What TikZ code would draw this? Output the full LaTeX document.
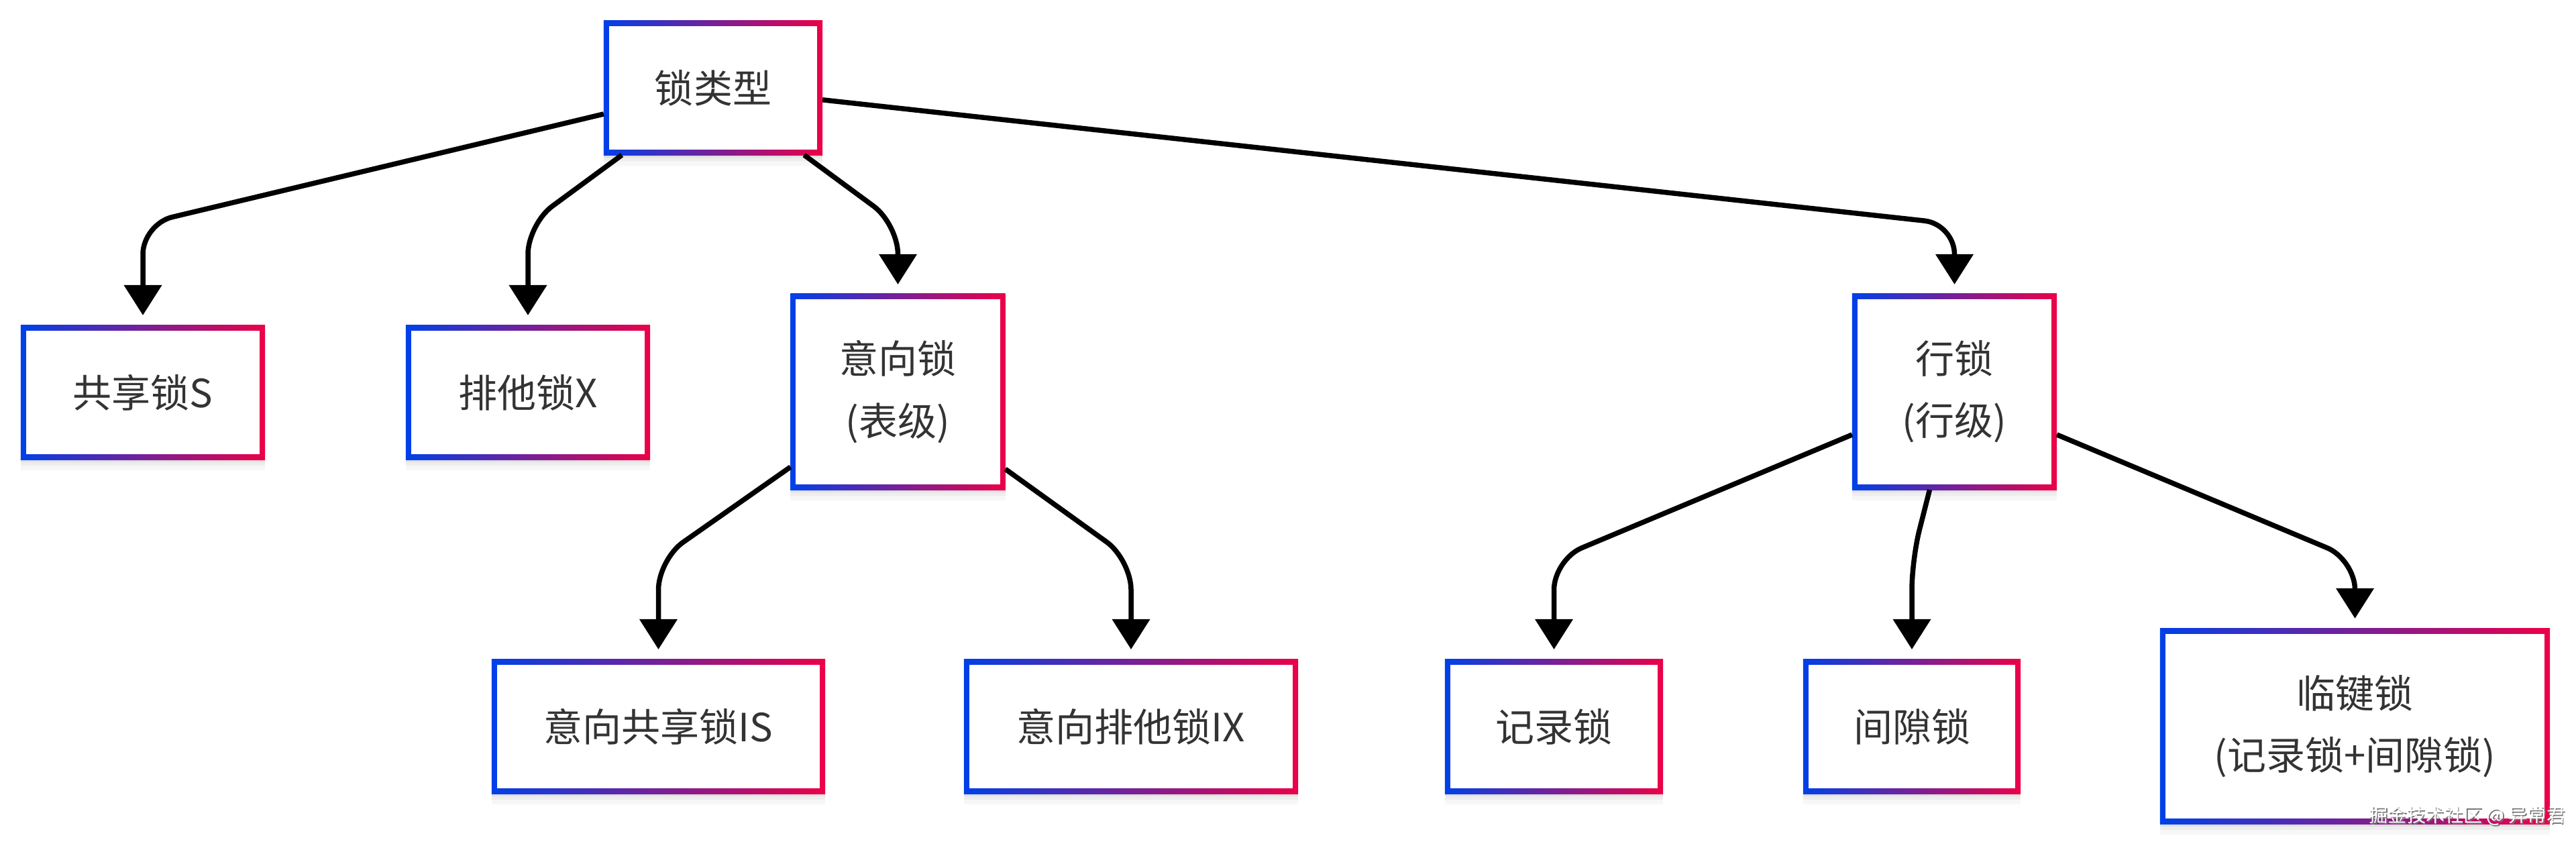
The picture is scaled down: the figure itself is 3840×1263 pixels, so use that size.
\documentclass[tikz,border=0pt]{standalone}
\usepackage{fontspec}
\setmainfont{Noto Sans CJK SC}
\usetikzlibrary{arrows.meta,shadows}
\definecolor{gblue}{RGB}{0,64,232}
\definecolor{gred}{RGB}{236,0,72}
\definecolor{txt}{RGB}{51,51,51}
\tikzset{
  gbox/.style={rectangle, inner sep=0pt, outer sep=0pt, fill=white, text=txt, align=center,
    font=\fontsize{16.5pt}{26.2pt}\selectfont,
    general shadow={fill=black, opacity=0.03, shadow yshift=-0.16cm},
    general shadow={fill=black, opacity=0.04, shadow yshift=-0.09cm},
    general shadow={fill=black, opacity=0.05, shadow yshift=-0.04cm},
    path picture={
      \shade[left color=gblue, right color=gred]
        (path picture bounding box.south west) rectangle (path picture bounding box.north east);
      \fill[white]
        ([shift={(0.08cm,0.08cm)}]path picture bounding box.south west) rectangle
        ([shift={(-0.08cm,-0.08cm)}]path picture bounding box.north east);
    }},
  conn/.style={draw=black, line width=0.075cm, rounded corners=0.45cm,
    -{Triangle[length=0.45cm,width=0.55cm]}},
  wmark/.style={inner sep=0pt, font=\fontsize{8pt}{9pt}\selectfont},
}
\begin{document}
\begin{tikzpicture}[x=0.01cm,y=-0.01cm]
\fill[white] (0,0) rectangle (3840,1263);
\useasboundingbox (0,0) rectangle (3840,1263);

% nodes
\node[gbox, minimum width=3.26cm, minimum height=2cm] (A) at (1063,131) {锁类型};
\node[gbox, minimum width=3.64cm, minimum height=2cm] (S) at (213,585) {共享锁S};
\node[gbox, minimum width=3.64cm, minimum height=2cm] (X) at (787,585) {排他锁X};
\node[gbox, minimum width=3.20cm, minimum height=2.92cm] (B) at (1338.5,584) {意向锁\\(表级)};
\node[gbox, minimum width=3.05cm, minimum height=2.92cm] (R) at (2913.5,584) {行锁\\(行级)};
\node[gbox, minimum width=4.97cm, minimum height=2cm] (IS) at (981.5,1083) {意向共享锁IS};
\node[gbox, minimum width=4.98cm, minimum height=2cm] (IX) at (1686,1083) {意向排他锁IX};
\node[gbox, minimum width=3.25cm, minimum height=2cm] (RL) at (2316.5,1083) {记录锁};
\node[gbox, minimum width=3.24cm, minimum height=2cm] (GL) at (2850,1083) {间隙锁};
\node[gbox, minimum width=5.81cm, minimum height=2.91cm] (NK) at (3510.5,1082.5) {临键锁\\(记录锁+间隙锁)};

% bend levels
\coordinate (L1) at (0,334);
\coordinate (L2) at (0,834);

% connectors
\draw[conn] (A) -- (S.north |- L1) -- ([yshift=0.15cm]S.north);
\draw[conn] (A) -- (X.north |- L1) -- ([yshift=0.15cm]X.north);
\draw[conn] (A) -- (B.north |- L1) -- ([yshift=0.14cm]B.north);
\draw[conn] (A) -- (R.north |- L1) -- ([yshift=0.14cm]R.north);
\draw[conn] (B) -- (IS.north |- L2) -- ([yshift=0.15cm]IS.north);
\draw[conn] (B) -- (IX.north |- L2) -- ([yshift=0.15cm]IX.north);
\draw[conn] (R) -- (RL.north |- L2) -- ([yshift=0.15cm]RL.north);
\draw[conn] (R) -- (GL.north |- L2) -- ([yshift=0.15cm]GL.north);
\draw[conn] (R) -- (NK.north |- L2) -- ([yshift=0.15cm]NK.north);

% watermark
\node[wmark, text=black!55] (wms) at (3679.5,1217.5) {掘金技术社区 @ 异常君};
\node[wmark, text=white] (wm) at (3678,1216) {掘金技术社区 @ 异常君};
\end{tikzpicture}
\end{document}
